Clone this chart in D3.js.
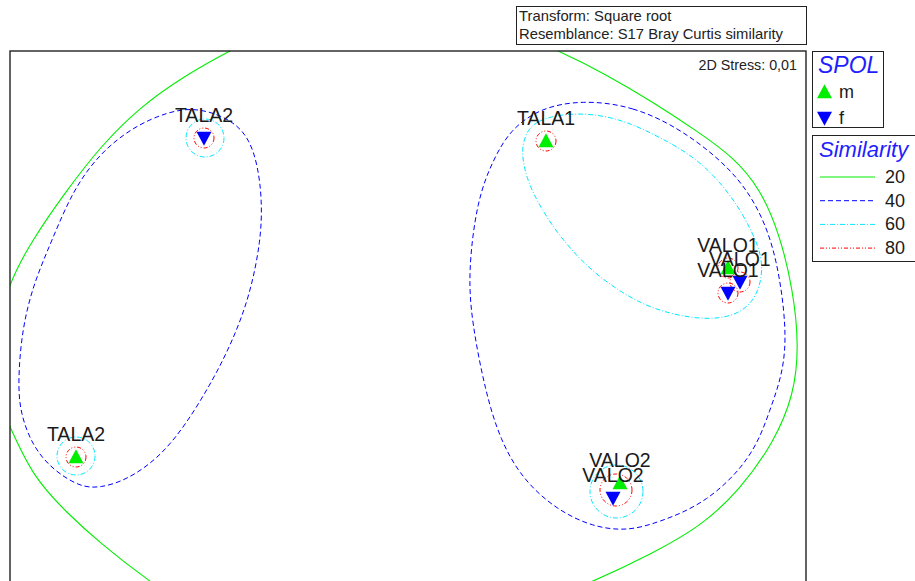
<!DOCTYPE html>
<html>
<head>
<meta charset="utf-8">
<script src="https://cdn.jsdelivr.net/npm/d3@7"></script>
<style>
  body { margin: 0; background: #fff; }
  svg text { font-family: "Liberation Sans", Arial, sans-serif; }
</style>
</head>
<body>
<script>
// nMDS ordination (sqrt transform, Bray Curtis) with cluster similarity contours

// samples
var sampleNames = ["TALA2", "TALA2", "TALA1", "VALO1", "VALO1", "VALO1", "VALO2", "VALO2"];
var sampleSex   = ["f", "m", "m", "m", "f", "f", "m", "f"];
var mdsX = [-2.04, -3.32, 1.38, 3.20, 3.32, 3.20, 2.12, 2.05];
var mdsY = [ 1.62, -1.57, 1.59, 0.32, 0.18, 0.07, -1.83, -1.98];

// small circular contours [x, y, radius]
var circles80 = [[-2.04, 1.62, 0.10], [-3.32, -1.57, 0.10], [1.38, 1.59, 0.10],
                 [3.20, 0.32, 0.10], [3.32, 0.18, 0.10], [3.20, 0.07, 0.10],
                 [2.08, -1.90, 0.16]];
var circles60 = [[-2.03, 1.62, 0.19], [-3.32, -1.56, 0.19], [2.085, -1.915, 0.265]];

// larger contours, traced outlines
var cyanRight = [[1.65, 1.88], [1.25, 1.80], [1.15, 1.60], [1.14, 1.43], [1.19, 1.20], [1.32, 0.93],
                 [1.52, 0.63], [1.79, 0.33], [2.09, 0.10], [2.45, -0.10], [2.92, -0.20], [3.25, -0.17],
                 [3.45, -0.03], [3.54, 0.20], [3.54, 0.43], [3.45, 0.67], [3.25, 1.03], [2.92, 1.40],
                 [2.52, 1.63], [2.09, 1.83]];
var blueRight = [[1.74, 2.00], [2.25, 1.94], [2.75, 1.70], [3.25, 1.30], [3.52, 0.90], [3.69, 0.43],
                 [3.79, -0.30], [3.75, -0.73], [3.62, -1.10], [3.45, -1.57], [2.99, -2.03], [2.49, -2.23],
                 [2.19, -2.31], [1.85, -2.27], [1.49, -2.10], [1.15, -1.80], [0.92, -1.40], [0.77, -0.90],
                 [0.64, -0.23], [0.60, 0.27], [0.69, 1.00], [0.85, 1.40], [1.02, 1.70], [1.32, 1.92]];
var blueLeft = [[-2.11, 1.93], [-1.75, 1.80], [-1.58, 1.60], [-1.50, 1.33], [-1.46, 1.00], [-1.47, 0.60],
                [-1.58, 0.05], [-1.75, -0.40], [-1.95, -0.80], [-2.21, -1.23], [-2.48, -1.57], [-2.81, -1.80],
                [-3.08, -1.88], [-3.28, -1.87], [-3.55, -1.70], [-3.75, -1.47], [-3.88, -1.13], [-3.90, -0.80],
                [-3.86, -0.30], [-3.75, 0.15], [-3.56, 0.60], [-3.35, 1.10], [-3.08, 1.47], [-2.75, 1.73],
                [-2.41, 1.88]];
var green20 = [[-0.18, 2.95], [0.92, 2.74], [1.54, 2.48], [1.99, 2.25], [2.45, 1.98], [2.92, 1.67],
               [3.25, 1.43], [3.52, 1.12], [3.72, 0.65], [3.85, 0.10], [3.91, -0.45], [3.86, -0.95],
               [3.66, -1.42], [3.32, -1.90], [2.92, -2.27], [2.45, -2.53], [1.89, -2.80], [1.12, -3.12],
               [-0.48, -3.40], [-2.08, -3.15], [-2.61, -2.80], [-3.08, -2.43], [-3.41, -2.13], [-3.75, -1.77],
               [-3.98, -1.27], [-4.10, -1.00], [-4.15, -0.53], [-4.03, 0.10], [-3.76, 0.60], [-3.41, 1.10],
               [-3.08, 1.53], [-2.68, 1.93], [-2.25, 2.23], [-1.81, 2.48], [-1.28, 2.74]];

// legends
var sexLevels = ["m", "f"];
var simLevels = ["20", "40", "60", "80"];
var simColors = ["#00ee00", "#0000ff", "#00e8ff", "#ff0000"];
var simDash   = [null, "5,3", "5,2,1,2", "4,2,1,2,1,2"];

window.onload = function() {
    draw();
};

function triangle(up, w, h) {
    var p = d3.path();
    if (up) {
        p.moveTo(0, -h * 0.55); p.lineTo(w / 2, h * 0.45); p.lineTo(-w / 2, h * 0.45);
    } else {
        p.moveTo(0, h * 0.55); p.lineTo(w / 2, -h * 0.45); p.lineTo(-w / 2, -h * 0.45);
    }
    p.closePath();
    return p.toString();
}

function draw() {
    var svg = d3.select("body").append("svg").attr("width", 915).attr("height", 581);

    var plot = { left: 10, top: 51, right: 806, bottom: 600 };

    var xScale = d3.scaleLinear().domain([-3.98, 3.98]).range([plot.left, plot.right]);
    var yScale = d3.scaleLinear().domain([2.49, -3.0]).range([plot.top, plot.bottom]);

    svg.append("clipPath").attr("id", "plotclip")
        .append("rect")
        .attr("x", plot.left).attr("y", plot.top)
        .attr("width", plot.right - plot.left).attr("height", plot.bottom - plot.top);

    var g = svg.append("g").attr("clip-path", "url(#plotclip)");

    // smooth closed outline through the traced points
    var line = d3.line()
        .x(function(d) { return xScale(d[0]); })
        .y(function(d) { return yScale(d[1]); })
        .curve(d3.curveBasisClosed);

    // contours
    g.append("path").attr("d", line(green20))
        .attr("fill", "none").attr("stroke", simColors[0]).attr("stroke-width", 1.1);
    [blueLeft, blueRight].forEach(function(c) {
        g.append("path").attr("d", line(c))
            .attr("fill", "none").attr("stroke", simColors[1]).attr("stroke-width", 1)
            .attr("stroke-dasharray", simDash[1]);
    });
    g.append("path").attr("d", line(cyanRight))
        .attr("fill", "none").attr("stroke", simColors[2]).attr("stroke-width", 1)
        .attr("stroke-dasharray", simDash[2]);

    var pxPerUnit = xScale(1) - xScale(0);

    g.selectAll(".c60").data(circles60).enter().append("circle")
        .attr("class", "c60")
        .attr("cx", function(d) { return xScale(d[0]); })
        .attr("cy", function(d) { return yScale(d[1]); })
        .attr("r", function(d) { return d[2] * pxPerUnit; })
        .attr("fill", "none").attr("stroke", simColors[2]).attr("stroke-width", 1)
        .attr("stroke-dasharray", simDash[2]);

    g.selectAll(".c80").data(circles80).enter().append("circle")
        .attr("class", "c80")
        .attr("cx", function(d) { return xScale(d[0]); })
        .attr("cy", function(d) { return yScale(d[1]); })
        .attr("r", function(d) { return d[2] * pxPerUnit; })
        .attr("fill", "none").attr("stroke", simColors[3]).attr("stroke-width", 1)
        .attr("stroke-dasharray", simDash[3]);

    // samples
    var idx = d3.range(sampleNames.length);
    g.selectAll(".pt").data(idx).enter().append("path")
        .attr("class", "pt")
        .attr("transform", function(i) { return "translate(" + xScale(mdsX[i]) + "," + yScale(mdsY[i]) + ")"; })
        .attr("d", function(i) { return triangle(sampleSex[i] === "m", 15, 14); })
        .attr("fill", function(i) { return sampleSex[i] === "m" ? "#00ee00" : "#0000ff"; });

    g.selectAll(".lbl").data(idx).enter().append("text")
        .attr("class", "lbl")
        .attr("x", function(i) { return xScale(mdsX[i]); })
        .attr("y", function(i) { return yScale(mdsY[i]) - 16; })
        .attr("text-anchor", "middle")
        .style("font-size", "19.5px")
        .attr("fill", "#1a1a1a")
        .text(function(i) { return sampleNames[i]; });

    // frame
    svg.append("rect")
        .attr("x", plot.left).attr("y", plot.top)
        .attr("width", plot.right - plot.left).attr("height", plot.bottom - plot.top)
        .attr("fill", "none").attr("stroke", "#222").attr("stroke-width", 1.4);

    svg.append("text")
        .attr("x", 797).attr("y", 70)
        .attr("text-anchor", "end")
        .style("font-size", "14.3px").attr("fill", "#222")
        .text("2D Stress: 0,01");

    // transform box
    svg.append("rect").attr("x", 516.5).attr("y", 6.5).attr("width", 290).attr("height", 38)
        .attr("fill", "#fff").attr("stroke", "#222").attr("stroke-width", 1);
    svg.append("text").attr("x", 519).attr("y", 21)
        .style("font-size", "14.8px").attr("fill", "#222").text("Transform: Square root");
    svg.append("text").attr("x", 519).attr("y", 39)
        .style("font-size", "14.8px").attr("fill", "#222").text("Resemblance: S17 Bray Curtis similarity");

    // SPOL legend
    svg.append("rect").attr("x", 812.5).attr("y", 51.5).attr("width", 71).attr("height", 76)
        .attr("fill", "#fff").attr("stroke", "#222").attr("stroke-width", 1);
    svg.append("text").attr("x", 818).attr("y", 73)
        .style("font-size", "23px").style("font-style", "italic").attr("fill", "#1e1eff")
        .text("SPOL");
    sexLevels.forEach(function(s, i) {
        var yy = 92 + i * 26;
        svg.append("path")
            .attr("transform", "translate(824.5," + yy + ")")
            .attr("d", triangle(s === "m", 15, 14))
            .attr("fill", s === "m" ? "#00ee00" : "#0000ff");
        svg.append("text").attr("x", 839).attr("y", yy + 6)
            .style("font-size", "18px").attr("fill", "#1a1a1a").text(s);
    });

    // Similarity legend
    svg.append("rect").attr("x", 812.5).attr("y", 135.5).attr("width", 110).attr("height", 126)
        .attr("fill", "#fff").attr("stroke", "#222").attr("stroke-width", 1);
    svg.append("text").attr("x", 819).attr("y", 157)
        .style("font-size", "22px").style("font-style", "italic").attr("fill", "#1e1eff")
        .text("Similarity");
    simLevels.forEach(function(s, i) {
        var yy = 177 + i * 23.7;
        svg.append("line").attr("x1", 820).attr("x2", 875).attr("y1", yy).attr("y2", yy)
            .attr("stroke", simColors[i]).attr("stroke-width", 1)
            .attr("stroke-dasharray", simDash[i]);
        svg.append("text").attr("x", 885).attr("y", yy + 6)
            .style("font-size", "18px").attr("fill", "#1a1a1a").text(s);
    });
}
</script>
</body>
</html>
